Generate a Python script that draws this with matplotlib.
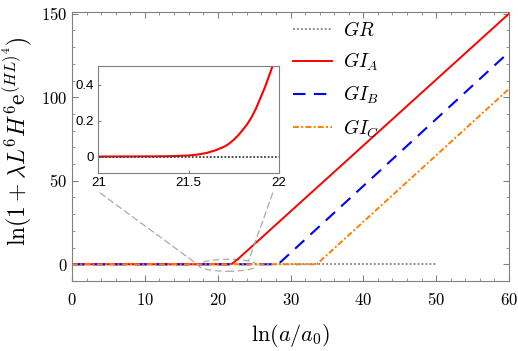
import numpy as np
import matplotlib
matplotlib.use("Agg")
import matplotlib.pyplot as plt
from matplotlib.patches import Ellipse, ConnectionPatch
from matplotlib.ticker import MultipleLocator, FuncFormatter

plt.rcParams['mathtext.fontset'] = 'cm'
plt.rcParams['font.family'] = ['DejaVu Serif']

# data
gr_x = [0, 50]
gr_y = [0, 0]
gia_x = [0, 21.5, 21.8, 22.0, 22.3, 23.0, 60]
gia_y = [0, 0, 0.15, 0.5, 1.4, 4.0, 150]
gib_x = [0, 28.3, 60]
gib_y = [0, 0, 127]
gic_x = [0, 33.6, 60]
gic_y = [0, 0, 105]

# inset (zoom on the start of GI_A)
ins_x = [21.0, 21.3, 21.4, 21.5, 21.55, 21.6, 21.65, 21.7, 21.725, 21.75, 21.775,
         21.8, 21.825, 21.85, 21.875, 21.9, 21.925, 21.95, 21.975, 21.99]
ins_y = [0.0, 0.001, 0.002, 0.006, 0.011, 0.02, 0.035, 0.056, 0.072, 0.093, 0.118,
         0.148, 0.18, 0.22, 0.27, 0.33, 0.39, 0.46, 0.53, 0.57]

GRAY = '#808080'
RED = '#ff0000'
BLUE = '#0000ff'
ORANGE = '#ff8000'

fig = plt.figure(figsize=(5.18, 3.51), dpi=100)
ax = fig.add_axes([72/518, 1-281/351, 437/518, 269/351])

ax.plot(gr_x, gr_y, color=GRAY, lw=1.3, ls=(0, (1, 1.2)), label=r'$GR$')
ax.plot(gia_x, gia_y, color=RED, lw=1.4, label=r'$GI_A$')
ax.plot(gib_x, gib_y, color=BLUE, lw=1.5, ls=(0, (6, 4)), label=r'$GI_B$')
ax.plot(gic_x, gic_y, color=ORANGE, lw=1.4, ls=(0, (3, 1.2, 1, 1.2)), label=r'$GI_C$')

ax.set_xlim(0, 60)
ax.set_ylim(-10, 151)
ax.xaxis.set_major_locator(MultipleLocator(10))
ax.xaxis.set_minor_locator(MultipleLocator(2))
ax.yaxis.set_major_locator(MultipleLocator(50))
ax.yaxis.set_minor_locator(MultipleLocator(10))
fmt = FuncFormatter(lambda v, p: r'$%g$' % v)
ax.xaxis.set_major_formatter(fmt)
ax.yaxis.set_major_formatter(fmt)
ax.tick_params(which='both', direction='in', top=True, right=True, color=GRAY, labelsize=12)
ax.tick_params(which='major', length=4)
ax.tick_params(which='minor', length=2.5)
ax.tick_params(axis='x', pad=8)
ax.tick_params(axis='y', pad=3.5)
for s in ax.spines.values():
    s.set_color(GRAY)
    s.set_linewidth(0.8)

ax.set_xlabel(r'$\ln(a/a_0)$', fontsize=16)
ax.set_ylabel(r'$\ln(1+\lambda L^6 H^6 \mathrm{e}^{(HL)^4})$', fontsize=17)
ax.xaxis.set_label_coords(0.5, -0.152)
ax.yaxis.set_label_coords(-0.087, 0.52)

leg = ax.legend(loc='upper left', bbox_to_anchor=((293-72)/437, 1 - 9/269), frameon=False,
                fontsize=14, handlelength=2.0, handletextpad=0.55, labelspacing=0.56,
                borderaxespad=0, borderpad=0)

# zoom marker
ell_c = (21.4, -0.6)
ell_w, ell_h = 8.0, 7.2
ax.add_patch(Ellipse(ell_c, ell_w, ell_h, fill=False, ec='#aaaaaa', lw=0.9, ls=(0, (5, 3))))

# inset
axi = fig.add_axes([98.3/518, 1-172.7/351, 180.4/518, 106.7/351])
axi.plot(ins_x, ins_y, color=RED, lw=1.5)
axi.plot([21, 22], [0, 0], color='#404040', lw=1.3, ls=(0, (1, 1)))
axi.set_xlim(21, 22)
axi.set_ylim(-0.09, 0.505)
axi.set_xticks([21, 21.5, 22])
axi.set_xticklabels(['21', '21.5', '22'])
axi.set_yticks([0, 0.2, 0.4])
axi.set_yticklabels(['0', '0.2', '0.4'])
for lab in axi.get_xticklabels() + axi.get_yticklabels():
    lab.set_family('Liberation Sans')
    lab.set_fontsize(9.5)
axi.tick_params(direction='in', length=2, color=GRAY, pad=3)
for s in axi.spines.values():
    s.set_color(GRAY)
    s.set_linewidth(0.8)

t = np.deg2rad(45)
ends = [(ell_c[0] - ell_w/2, ell_c[1]),
        (ell_c[0] + ell_w/2*np.cos(t), ell_c[1] + ell_h/2*np.sin(t))]
starts = [(0.01, -0.19), (0.967, -0.19)]
for st, en in zip(starts, ends):
    cp = ConnectionPatch(xyA=st, coordsA=axi.transAxes, xyB=en, coordsB=ax.transData,
                         color='#aaaaaa', lw=0.9, ls=(0, (5, 3)))
    fig.add_artist(cp)

fig.savefig('out.png', dpi=100)
